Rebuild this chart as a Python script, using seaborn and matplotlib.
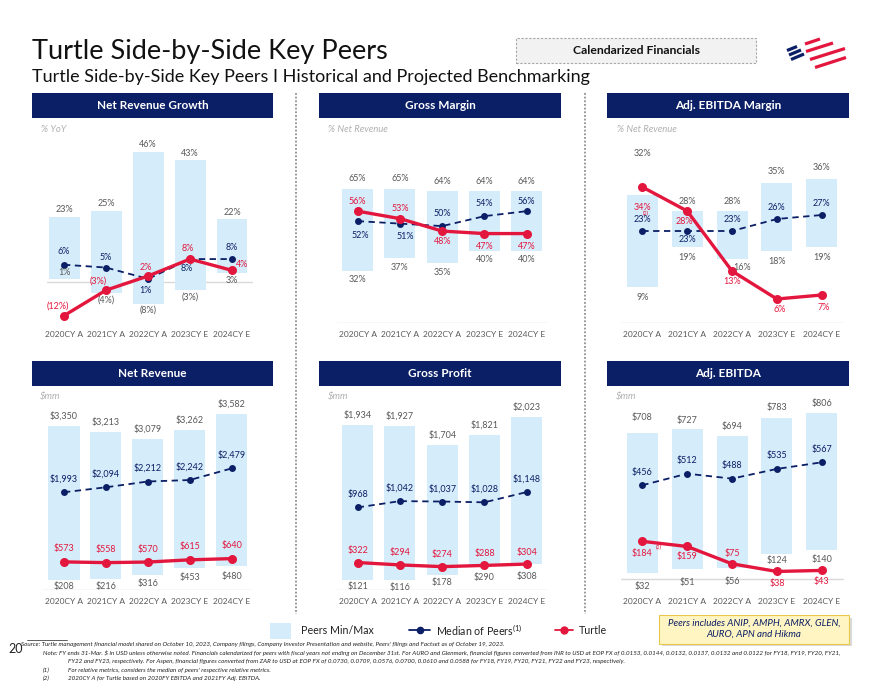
import numpy as np
import pandas as pd
import matplotlib
matplotlib.use("Agg")
import matplotlib.pyplot as plt
import seaborn as sns
from matplotlib.patches import Rectangle
from matplotlib.lines import Line2D

# ---------------- data ----------------
years = ["2020CY A", "2021CY A", "2022CY A", "2023CY E", "2024CY E"]

nrg_max = [23, 25, 46, 43, 22]
nrg_min = [1, -4, -8, -3, 3]
nrg_med = [6, 5, 1, 8, 8]
nrg_turtle = [-12, -3, 2, 8, 4]

gm_max = [65, 65, 64, 64, 64]
gm_min = [32, 37, 35, 40, 40]
gm_med = [52, 51, 50, 54, 56]
gm_turtle = [56, 53, 48, 47, 47]

em_max = [32, 28, 28, 35, 36]
em_min = [9, 19, 16, 18, 19]
em_med = [23, 23, 23, 26, 27]
em_turtle = [34, 28, 13, 6, 7]

nr_max = [3350, 3213, 3079, 3262, 3582]
nr_min = [208, 216, 316, 453, 480]
nr_med = [1993, 2094, 2212, 2242, 2479]
nr_turtle = [573, 558, 570, 615, 640]

gp_max = [1934, 1927, 1704, 1821, 2023]
gp_min = [121, 116, 178, 290, 308]
gp_med = [968, 1042, 1037, 1028, 1148]
gp_turtle = [322, 294, 274, 288, 304]

eb_max = [708, 727, 694, 783, 806]
eb_min = [32, 51, 56, 124, 140]
eb_med = [456, 512, 488, 535, 567]
eb_turtle = [184, 159, 75, 38, 43]

# ---------------- style ----------------
sns.set_theme(style="white")
plt.rcParams["font.family"] = ["Lato", "DejaVu Sans"]
plt.rcParams["mathtext.fontset"] = "custom"
plt.rcParams["mathtext.rm"] = "Lato"
plt.rcParams["mathtext.default"] = "regular"

NAVY = "#0B1F66"
RED = "#E3173E"
BAR = "#D5EDFA"
GRAY = "#595959"
LIGHT = "#A6A6A6"

W, H = 880, 681
fig = plt.figure(figsize=(W / 100, H / 100), dpi=100)
fig.patch.set_facecolor("white")


def fx(x):
    return x / W


def fy(y):
    return 1 - y / H


def ftext(x, y, s, **kw):
    fig.text(fx(x), fy(y), s, **kw)


def pct(v):
    return f"{v}%" if v >= 0 else f"({-v}%)"


def usd(v):
    return f"\\${v:,}"


def draw_panel(cfg):
    x0, x1, y0, y1 = cfg["box"]
    ax = fig.add_axes([fx(x0), fy(y1), (x1 - x0) / W, (y1 - y0) / H])
    c0, step = cfg["c0"], cfg["step"]
    zero, ppu = cfg["zero"], cfg["ppu"]
    ax.set_xlim((x0 - c0) / step, (x1 - c0) / step)
    ylo, yhi = (zero - y1) / ppu, (zero - y0) / ppu
    ax.set_ylim(ylo, yhi)
    xs = np.arange(len(years))
    mx, mn = np.array(cfg["max"]), np.array(cfg["min"])
    ax.bar(xs, mx - mn, bottom=mn, width=31 / step, color=BAR, zorder=1, linewidth=0)
    df = pd.DataFrame({"x": xs, "med": cfg["med"], "tur": cfg["tur"]})
    sns.lineplot(data=df, x="x", y="med", ax=ax, color=NAVY, linestyle=(0, (3.5, 2.5)),
                 linewidth=1.3, marker="o", markersize=5, markeredgewidth=0, zorder=3)
    sns.lineplot(data=df, x="x", y="tur", ax=ax, color=RED, linewidth=2.4,
                 marker="o", markersize=6.5, markeredgewidth=0, zorder=4)
    base = cfg.get("base", ylo)
    ax.axhline(base, color="#D9D9D9", lw=1.0, zorder=0)
    for s in ax.spines.values():
        s.set_visible(False)
    ax.set_yticks([])
    ax.set_xticks(xs)
    ax.set_xticklabels(years)
    ax.set_xlabel("")
    ax.set_ylabel("")
    ax.tick_params(axis="x", length=0, pad=cfg["pad"], labelsize=6, labelcolor=GRAY)
    fmt = cfg["fmt"]

    def lab(i, v, off, color, size=6.5):
        ax.annotate(fmt(v), (xs[i], v), xytext=off, textcoords="offset pixels",
                    ha="center", va="center", fontsize=size, color=color,
                    annotation_clip=False, zorder=6)

    for i in range(len(years)):
        lab(i, mx[i], cfg["o_max"][i], GRAY)
        lab(i, mn[i], cfg["o_min"][i], GRAY)
        lab(i, cfg["med"][i], cfg["o_med"][i], NAVY)
        lab(i, cfg["tur"][i], cfg["o_tur"][i], RED)
    return ax


up = lambda d: [(0, d)] * 5

panels = [
    dict(box=(47, 253, 140, 323), c0=64, step=42, zero=281.7, ppu=2.83, base=0, pad=6.0,
         max=nrg_max, min=nrg_min, med=nrg_med, tur=nrg_turtle, fmt=pct,
         o_max=up(7), o_min=[(0, 6), (0, -7), (0, -6), (0, -7), (0, -7)],
         o_med=[(0, 13), (0, 10), (-3, -12), (-3, -9), (0, 12)],
         o_tur=[(-6, 10), (-8, 9), (-2, 9), (-2, 11), (10, 6)]),
    dict(box=(336.7, 548.3, 140, 323), c0=357.7, step=42.25, zero=350.6, ppu=2.49, pad=6.0,
         max=gm_max, min=gm_min, med=gm_med, tur=gm_turtle, fmt=pct,
         o_max=up(10), o_min=up(-9),
         o_med=[(3, -14), (5, -13), (0, 13), (0, 13), (0, 10)],
         o_tur=[(0, 10), (0, 10), (0, -10), (0, -13), (0, -13)]),
    dict(box=(620.7, 844, 140, 323), c0=642.3, step=44.85, zero=323.0, ppu=4.0, pad=6.0,
         max=em_max, min=em_min, med=em_med, tur=em_turtle, fmt=pct,
         o_max=[(0, 42), (0, 9), (0, 9), (0, 11), (0, 11)],
         o_min=[(0, -11), (0, -11), (10, -8), (0, -11), (0, -11)],
         o_med=[(0, 12), (0, -9), (0, 12), (0, 11), (0, 12)],
         o_tur=[(0, -20), (-3, -11), (0, -10), (3, -11), (2, -13)]),
    dict(box=(41.7, 253, 400, 590), c0=64, step=41.9, zero=590.0, ppu=0.04905, base=0, pad=6.1,
         max=nr_max, min=nr_min, med=nr_med, tur=nr_turtle, fmt=usd,
         o_max=up(10), o_min=[(0, -7), (0, -7), (0, -9), (0, -10), (0, -10)],
         o_med=up(13), o_tur=up(13)),
    dict(box=(336.7, 548.3, 400, 590), c0=357.7, step=42.25, zero=590.0, ppu=0.0853, base=0, pad=6.1,
         max=gp_max, min=gp_min, med=gp_med, tur=gp_turtle, fmt=usd,
         o_max=up(10), o_min=[(0, -7), (0, -7), (0, -8), (0, -12), (0, -13)],
         o_med=up(13), o_tur=up(12)),
    dict(box=(620.7, 844, 400, 590), c0=642.3, step=44.85, zero=579.3, ppu=0.2063, base=0, pad=6.1,
         max=eb_max, min=eb_min, med=eb_med, tur=eb_turtle, fmt=usd,
         o_max=[(0, 16), (0, 9), (0, 10), (0, 10), (0, 10)],
         o_min=[(0, -14), (0, -14), (0, -14), (0, -7), (0, -9)],
         o_med=up(13),
         o_tur=[(0, -12), (0, -10), (0, 10), (0, -12), (0, -11)]),
]

axes = [draw_panel(p) for p in panels]

# footnote markers "(2)" next to Turtle 2020 values
axes[2].annotate("(2)", (0, em_turtle[0]), xytext=(3, -26), textcoords="offset pixels",
                 ha="center", va="center", fontsize=3.8, color=RED, annotation_clip=False)
axes[5].annotate("(2)", (0, eb_turtle[0]), xytext=(16, -6), textcoords="offset pixels",
                 ha="center", va="center", fontsize=3.8, color=RED, annotation_clip=False)

# ---------------- headers ----------------
headers = [("Net Revenue Growth", 31.7, 273.3, 93), ("Gross Margin", 319, 561, 93),
           ("Adj. EBITDA Margin", 607, 849, 93), ("Net Revenue", 31.7, 273.3, 361),
           ("Gross Profit", 319, 561, 361), ("Adj. EBITDA", 607, 849, 361)]
for name, xa, xb, ya in headers:
    fig.patches.append(Rectangle((fx(xa), fy(ya + 25)), (xb - xa) / W, 25 / H,
                                 transform=fig.transFigure, facecolor=NAVY, edgecolor="none"))
    ftext((xa + xb) / 2, ya + 12.5, name, ha="center", va="center", color="white",
          fontsize=8.5, fontweight="bold")

units = [("% YoY", 41, 129), ("% Net Revenue", 328, 129), ("% Net Revenue", 617, 129),
         ("\\$mm", 40, 397), ("\\$mm", 328, 397), ("\\$mm", 616, 397)]
for s, x, y in units:
    ftext(x, y, s, ha="left", va="center", fontsize=6.8, style="italic", color="#B0B0B0")

# dotted separators
for xv in (295.5, 584.5):
    fig.add_artist(Line2D([fx(xv), fx(xv)], [fy(93), fy(614)], transform=fig.transFigure,
                          color="#7F7F7F", lw=1.1, linestyle=(0, (1.2, 1.2))))

# ---------------- title ----------------
ftext(32, 59, "Turtle Side-by-Side Key Peers", ha="left", va="baseline",
      fontsize=19.5, fontweight="normal", color="#111111")
ftext(32, 82, "Turtle Side-by-Side Key Peers I Historical and Projected Benchmarking",
      ha="left", va="baseline", fontsize=13, fontweight="normal", color="#111111")

fig.patches.append(Rectangle((fx(516), fy(63.3)), 240 / W, 25.6 / H, transform=fig.transFigure,
                             facecolor="#F2F2F2", edgecolor="#A6A6A6", lw=0.8,
                             linestyle=(0, (2, 1.5))))
ftext(636, 50.5, "Calendarized Financials", ha="center", va="center", fontsize=8.8,
      fontweight="bold", color="#111111")

# logo
for (xa, ya, xb, yb) in [(787, 50.5, 797, 46.5), (789, 55, 801, 50), (791, 59.5, 804, 54)]:
    fig.add_artist(Line2D([fx(xa), fx(xb)], [fy(ya), fy(yb)], transform=fig.transFigure,
                          color=NAVY, lw=2.3, solid_capstyle="butt"))
for (xa, ya, xb, yb) in [(805, 44, 820, 39), (806, 51.5, 833, 43), (810, 59.5, 845, 48.5),
                         (815, 67.5, 846, 57.5)]:
    fig.add_artist(Line2D([fx(xa), fx(xb)], [fy(ya), fy(yb)], transform=fig.transFigure,
                          color=RED, lw=2.3, solid_capstyle="butt"))

# ---------------- legend ----------------
ly = 630.4
fig.patches.append(Rectangle((fx(270), fy(638.5)), 21 / W, 16 / H, transform=fig.transFigure,
                             facecolor=BAR, edgecolor="none"))
ftext(300.8, ly, "Peers Min/Max", ha="left", va="center", fontsize=7.7, color="#222222")
fig.add_artist(Line2D([fx(409), fx(430)], [fy(ly), fy(ly)], transform=fig.transFigure,
                      color=NAVY, lw=1.3))
fig.add_artist(Line2D([fx(419.5)], [fy(ly)], transform=fig.transFigure, color=NAVY,
                      marker="o", markersize=5.5, markeredgewidth=0, linestyle="none"))
ftext(435.8, ly, "Median of Peers$^{(1)}$", ha="left", va="center", fontsize=7.7, color="#222222")
fig.add_artist(Line2D([fx(555), fx(573)], [fy(ly), fy(ly)], transform=fig.transFigure,
                      color=RED, lw=1.3))
fig.add_artist(Line2D([fx(564)], [fy(ly)], transform=fig.transFigure, color=RED,
                      marker="o", markersize=6, markeredgewidth=0, linestyle="none"))
ftext(578.5, ly, "Turtle", ha="left", va="center", fontsize=7.7, color="#222222")

# yellow note box
fig.patches.append(Rectangle((fx(661.5), fy(646)), 190 / W, 28.5 / H, transform=fig.transFigure,
                             facecolor="#D9D9D9", edgecolor="none"))
fig.patches.append(Rectangle((fx(659), fy(643.5)), 190 / W, 28.5 / H, transform=fig.transFigure,
                             facecolor="#FFF5C2", edgecolor="#E8C84A", lw=0.8))
ftext(754, 623.5, "Peers includes ANIP, AMPH, AMRX, GLEN,", ha="center", va="center",
      fontsize=7, style="italic", color=NAVY)
ftext(754, 634.5, "AURO, APN and Hikma", ha="center", va="center", fontsize=7,
      style="italic", color=NAVY)

# ---------------- footnotes ----------------
fig.add_artist(Line2D([fx(27), fx(67)], [fy(639.5), fy(639.5)], transform=fig.transFigure,
                      color="#444444", lw=0.6))
ftext(8, 649, "20", ha="left", va="center", fontsize=9, color="#222222")
fs = 4.5
ftext(21, 644, "Source: Turtle management financial model shared on October 10, 2023, Company filings, "
      "Company Investor Presentation and website, Peers' filings and Factset as of October 19, 2023.",
      ha="left", va="center", fontsize=fs, style="italic", color="#222222")
ftext(43, 652.5, "Note: FY ends 31-Mar. \\$ in USD unless otherwise noted. Financials calendarized for peers "
      "with fiscal years not ending on December 31st. For AURO and Glenmark, financial figures converted "
      "from INR to USD at EOP FX of 0.0153, 0.0144, 0.0132, 0.0137, 0.0132 and 0.0122 for FY18, FY19, FY20, FY21,",
      ha="left", va="center", fontsize=fs, style="italic", color="#222222")
ftext(68, 661, "FY22 and FY23, respectively. For Aspen, financial figures converted from ZAR to USD at EOP FX "
      "of 0.0730, 0.0709, 0.0576, 0.0700, 0.0610 and 0.0588 for FY18, FY19, FY20, FY21, FY22 and FY23, respectively.",
      ha="left", va="center", fontsize=fs, style="italic", color="#222222")
ftext(43, 670, "(1)", ha="left", va="center", fontsize=fs, style="italic", color="#222222")
ftext(68, 670, "For relative metrics, considers the median of peers' respective relative metrics.",
      ha="left", va="center", fontsize=fs, style="italic", color="#222222")
ftext(43, 678.5, "(2)", ha="left", va="center", fontsize=fs, style="italic", color="#222222")
ftext(68, 678.5, "2020CY A for Turtle based on 2020FY EBITDA and 2021FY Adj. EBITDA.",
      ha="left", va="center", fontsize=fs, style="italic", color="#222222")

fig.savefig("out.png", dpi=100, facecolor="white")
